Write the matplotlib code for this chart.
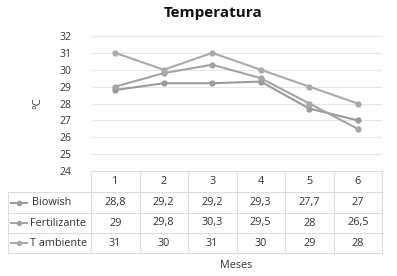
import matplotlib
matplotlib.use('Agg')
import matplotlib.pyplot as plt

plt.rcParams['font.family'] = ['Open Sans', 'DejaVu Sans']

# data
meses = ['1', '2', '3', '4', '5', '6']
series_names = ['Biowish', 'Fertilizante', 'T ambiente']
biowish = [28.8, 29.2, 29.2, 29.3, 27.7, 27]
fertilizante = [29, 29.8, 30.3, 29.5, 28, 26.5]
t_ambiente = [31, 30, 31, 30, 29, 28]
y_ticks = [24, 25, 26, 27, 28, 29, 30, 31, 32]

series = [biowish, fertilizante, t_ambiente]
colors = ['#9a9a9a', '#a4a4a4', '#aaaaaa']

W, H = 397, 276
fig = plt.figure(figsize=(W / 100, H / 100), dpi=100)


def fig_rect(x0, y0, x1, y1):
    # pixel box (top-left origin) -> figure fraction rect
    return [x0 / W, 1 - y1 / H, (x1 - x0) / W, (y1 - y0) / H]


# main plot
ax = fig.add_axes(fig_rect(91, 36, 382, 171))
x = list(range(len(meses)))
for vals, c in zip(series, colors):
    ax.plot(x, vals, color=c, lw=1.5, marker='o', ms=3.5, mec=c, mfc=c)
ax.set_xlim(-0.5, len(meses) - 0.5)
ax.set_ylim(24, 32)
ax.set_yticks(y_ticks)
ax.set_yticklabels([str(t) for t in y_ticks], fontsize=7.5, color='#333333')
ax.tick_params(axis='y', length=0, pad=14)
ax.set_xticks([])
for t in y_ticks[1:]:
    ax.axhline(t, color='#e6e6e6', lw=0.8, zorder=0)
for s in ax.spines.values():
    s.set_visible(False)
ax.set_ylabel('°C', fontsize=8, color='#333333', labelpad=12)

fig.text(213 / W, 1 - 13 / H, 'Temperatura', ha='center', va='center',
         fontsize=11, fontweight='bold', color='#111111')

# data table
tab = fig.add_axes(fig_rect(0, 171, W, 276))
tab.set_xlim(0, W)
tab.set_ylim(276 - 171, 0)
tab.axis('off')
y_off = 171
col_edges = [91 + i * 48.5 for i in range(len(meses) + 1)]
row_edges = [171, 192, 213, 233, 253]
gc = '#dddddd'
for xe in col_edges:
    tab.plot([xe, xe], [row_edges[0] - y_off, row_edges[-1] - y_off], color=gc, lw=0.8)
tab.plot([8, 8], [row_edges[1] - y_off, row_edges[-1] - y_off], color=gc, lw=0.8)
tab.plot([col_edges[0], col_edges[-1]], [row_edges[0] - y_off] * 2, color=gc, lw=0.8)
for ye in row_edges[1:]:
    tab.plot([8, col_edges[-1]], [ye - y_off] * 2, color=gc, lw=0.8)

tc = '#333333'
for j, m in enumerate(meses):
    cx = (col_edges[j] + col_edges[j + 1]) / 2
    tab.text(cx, (row_edges[0] + row_edges[1]) / 2 - y_off, m, ha='center', va='center',
             fontsize=7.8, color=tc)
for i, (name, vals, c) in enumerate(zip(series_names, series, colors)):
    cy = (row_edges[i + 1] + row_edges[i + 2]) / 2 - y_off
    tab.plot([11, 27], [cy, cy], color=c, lw=1.4)
    tab.plot([19], [cy], marker='o', ms=3, color=c)
    lx = 32 if i == 0 else 30
    tab.text(lx, cy, name, ha='left', va='center', fontsize=7.8, color=tc)
    for j, v in enumerate(vals):
        cx = (col_edges[j] + col_edges[j + 1]) / 2
        tab.text(cx, cy, f'{v:g}'.replace('.', ','), ha='center', va='center',
                 fontsize=7.8, color=tc)

tab.text(236, 265 - y_off, 'Meses', ha='center', va='center', fontsize=7.8, color=tc)

fig.savefig('out.png', dpi=100, facecolor='white')
